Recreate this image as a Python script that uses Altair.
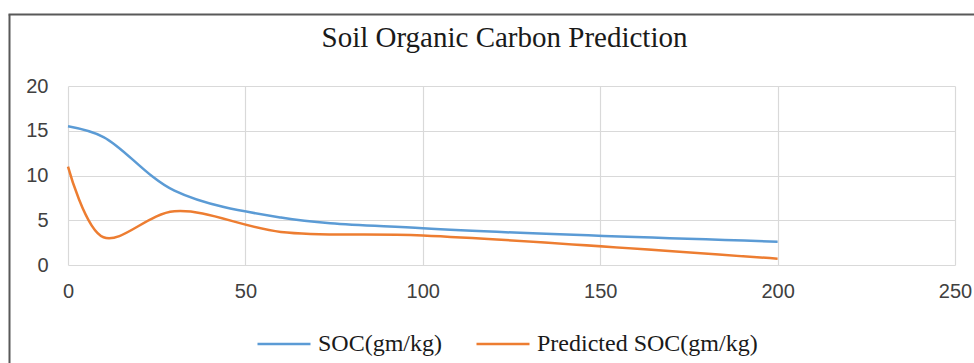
import altair as alt
import pandas as pd

# Soil depth (cm) and organic carbon values
depth = [0, 10, 30, 60, 100, 200]
soc_measured = [15.5, 14.3, 8.3, 5.3, 4.1, 2.6]
soc_predicted = [11.0, 3.1, 6.0, 3.7, 3.3, 0.7]

series_names = ["SOC(gm/kg)", "Predicted SOC(gm/kg)"]
series_colors = ["#5B9BD5", "#ED7D31"]

x_ticks = [0, 50, 100, 150, 200, 250]
y_ticks = [0, 5, 10, 15, 20]

rows = []
for name, values in zip(series_names, [soc_measured, soc_predicted]):
    for d, v in zip(depth, values):
        rows.append({"depth": d, "soc": v, "series": name})
df = pd.DataFrame(rows)

W, H = 887, 179
PAD_L, PAD_T, PAD_R, PAD_B = 68, 86, 19, 98

lines = alt.Chart(df).mark_line(
    interpolate="catmull-rom", strokeWidth=2.5
).encode(
    x=alt.X("depth:Q", scale=alt.Scale(domain=[0, 250], nice=False),
            axis=alt.Axis(values=x_ticks, title=None, grid=True, domain=False,
                          ticks=False, labelPadding=16, labelFlush=False,
                          labelFont="Liberation Sans", labelFontSize=20,
                          labelColor="#404040")),
    y=alt.Y("soc:Q", scale=alt.Scale(domain=[0, 20], nice=False),
            axis=alt.Axis(values=y_ticks, title=None, grid=True, domain=False,
                          ticks=False, labelPadding=20, labelFlush=False,
                          labelFont="Liberation Sans", labelFontSize=20,
                          labelColor="#404040")),
    color=alt.Color("series:N",
                    scale=alt.Scale(domain=series_names, range=series_colors),
                    legend=alt.Legend(
                        title=None, orient="none", direction="horizontal",
                        legendX=188, legendY=230,
                        symbolType="stroke", symbolSize=2809,
                        symbolStrokeWidth=2.5, labelOffset=6,
                        columnPadding=28, labelLimit=400,
                        labelFont="Liberation Serif", labelFontSize=24,
                        labelColor="#1a1a1a", padding=0)),
)

# Outer chart frame (left and top edges)
frame_data = alt.Data(values=[{"k": 1}])
frame_left = alt.Chart(frame_data).mark_rule(color="#595959", strokeWidth=2).encode(
    x=alt.value(-58.5), y=alt.value(-71.5), y2=alt.value(H + PAD_B + 5))
frame_top = alt.Chart(frame_data).mark_rule(color="#595959", strokeWidth=2).encode(
    x=alt.value(-59.5), x2=alt.value(W + PAD_R + 5), y=alt.value(-71.5))

chart = alt.layer(lines, frame_left, frame_top).properties(
    width=W, height=H,
    padding={"left": PAD_L, "top": PAD_T, "right": PAD_R, "bottom": PAD_B},
    autosize=alt.AutoSizeParams(type="none"),
    background="white",
    title=alt.TitleParams(
        "Soil Organic Carbon Prediction", font="Liberation Serif",
        fontSize=29, fontWeight="normal", color="#1a1a1a",
        anchor="middle", dx=-7, offset=-39),
).configure_view(stroke=None).configure_axis(
    gridColor="#D9D9D9", gridWidth=1.2,
)

chart.save("out.html", embed_options={"renderer": "svg", "actions": False})
